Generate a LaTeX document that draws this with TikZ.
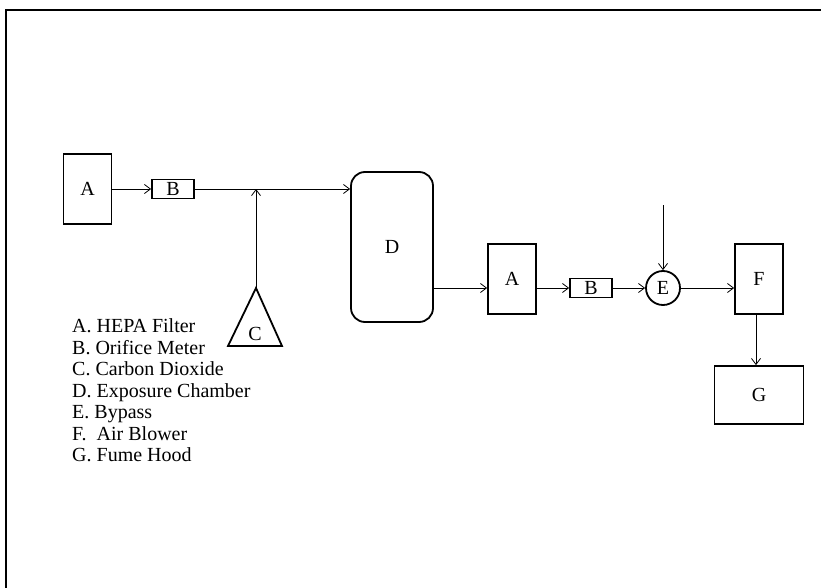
\documentclass[tikz,border=0pt]{standalone}
\usepackage{fontspec}
\setmainfont{Liberation Serif}
\usetikzlibrary{positioning,arrows.meta}

\begin{document}
\begin{tikzpicture}[
  x=1pt, y=-1pt,
  every node/.style={font=\fontsize{20}{21.5}\selectfont},
  unit/.style={draw, line width=1.8pt, inner sep=0pt},
  filterbox/.style={unit, minimum width=48pt, minimum height=70pt},
  meter/.style={unit, minimum width=42pt, minimum height=19pt},
  flow/.style={-{Straight Barb[length=6pt,width=9pt]}, line width=0.8pt},
  legend/.style={align=left, anchor=north west, inner sep=0pt}
]
\useasboundingbox (0,0) rectangle (821,588);
\draw[line width=2.4pt] (6,588) -- (6,10) -- (821,10);

% supply side
\node[filterbox] (A1) at (87.5,189) {A};
\node[meter] (B1) at (173,189) {B};
\draw[unit] (228,346) -- (256,288) -- (282,346) -- cycle;
\node (C) at (255,334) {C};
\coordinate (Ctop) at (256,288);

% chamber
\node[unit, rounded corners=14pt, minimum width=82pt, minimum height=150pt] (D) at (392,247) {D};
\coordinate (join) at (Ctop |- B1);

% exhaust side
\node[filterbox] (A2) at (512,279) {A};
\node[meter] (B2) at (591,288) {B};
\node[unit, circle, minimum size=34pt] (E) at (663,288) {E};
\coordinate (bypass) at ([yshift=65pt]E.north);
\node[filterbox] (F) at (759,279) {F};
\node[unit, minimum width=89pt, minimum height=58pt] (G) at (759,395) {G};

% legend
\node[legend] (key) at (72,318.5) {A. HEPA Filter\\B. Orifice Meter\\C. Carbon Dioxide\\D. Exposure Chamber\\E. Bypass\\F.\ \ Air Blower\\G. Fume Hood};

% flow lines
\draw[flow] (A1) -- (B1);
\draw[flow] (B1) -- (D.west |- B1);
\draw[flow] (Ctop) -- (join);
\draw[flow] (D.east |- B2) -- (A2.west |- B2);
\draw[flow] (A2.east |- B2) -- (B2);
\draw[flow] (B2) -- (E);
\draw[flow] (bypass) -- (E.north);
\draw[flow] (E) -- (F.west |- E);
\draw[flow] ([xshift=-3pt]F.south) -- ([xshift=-3pt]F.south |- G.north);

\end{tikzpicture}
\end{document}
